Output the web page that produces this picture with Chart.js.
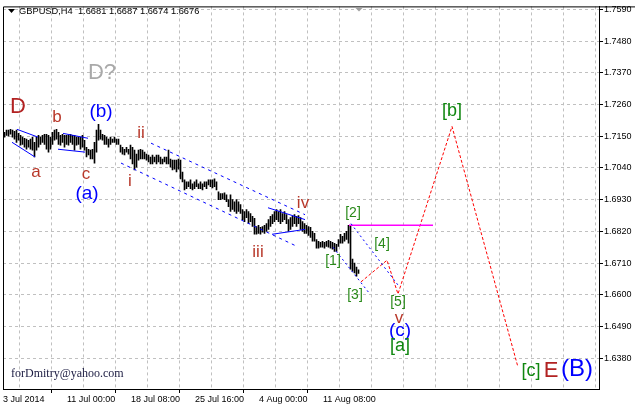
<!DOCTYPE html>
<html><head><meta charset="utf-8">
<script src="https://cdn.jsdelivr.net/npm/chart.js@4/dist/chart.umd.min.js"></script>
<style>html,body{margin:0;padding:0;background:#fff;overflow:hidden}#wrap{width:635px;height:405px;position:relative}</style>
</head><body><div id="wrap"><canvas id="c" width="635" height="405"></canvas></div>
<script>
// ---- data (H4 bars, index 0 = first visible bar) ----
const barHigh = [
1.7164,1.7171,1.7171,1.7174,1.7171,1.7167,1.7171,1.7160,1.7153,1.7147,
1.7143,1.7140,1.7136,1.7140,1.7147,1.7129,1.7147,1.7153,1.7147,1.7153,
1.7157,1.7157,1.7153,1.7147,1.7164,1.7171,1.7174,1.7164,1.7153,1.7157,
1.7153,1.7153,1.7153,1.7157,1.7153,1.7153,1.7147,1.7147,1.7147,1.7153,
1.7136,1.7112,1.7105,1.7102,1.7105,1.7129,1.7171,1.7191,1.7171,1.7157,
1.7153,1.7147,1.7140,1.7147,1.7140,1.7147,1.7140,1.7140,1.7119,1.7112,
1.7105,1.7112,1.7105,1.7119,1.7112,1.7102,1.7088,1.7102,1.7105,1.7102,
1.7095,1.7088,1.7085,1.7078,1.7085,1.7078,1.7085,1.7085,1.7078,1.7071,
1.7078,1.7078,1.7102,1.7071,1.7067,1.7067,1.7067,1.7071,1.7067,1.7026,
1.6999,1.6992,1.6992,1.6999,1.6985,1.6992,1.6999,1.6985,1.6992,1.6985,
1.6992,1.6992,1.6999,1.6999,1.6999,1.7002,1.6992,1.6957,1.6951,1.6951,
1.6954,1.6947,1.6930,1.6947,1.6930,1.6923,1.6930,1.6923,1.6913,1.6896,
1.6889,1.6896,1.6889,1.6882,1.6872,1.6865,1.6837,1.6841,1.6834,1.6837,
1.6841,1.6847,1.6861,1.6872,1.6878,1.6889,1.6896,1.6889,1.6896,1.6882,
1.6889,1.6878,1.6861,1.6868,1.6872,1.6878,1.6872,1.6875,1.6868,1.6854,
1.6847,1.6841,1.6837,1.6834,1.6820,1.6813,1.6792,1.6786,1.6782,1.6786,
1.6782,1.6786,1.6789,1.6786,1.6782,1.6779,1.6775,1.6792,1.6810,1.6803,
1.6813,1.6820,1.6841,1.6841,1.6724,1.6710,1.6696,1.6687];
const barLow = [
1.7147,1.7153,1.7150,1.7157,1.7147,1.7140,1.7129,1.7136,1.7119,1.7122,
1.7112,1.7105,1.7112,1.7105,1.7102,1.7078,1.7102,1.7112,1.7122,1.7129,
1.7122,1.7105,1.7095,1.7105,1.7122,1.7136,1.7140,1.7122,1.7119,1.7129,
1.7112,1.7122,1.7119,1.7129,1.7122,1.7102,1.7119,1.7122,1.7105,1.7112,
1.7102,1.7078,1.7085,1.7071,1.7071,1.7057,1.7095,1.7136,1.7140,1.7136,
1.7122,1.7122,1.7112,1.7122,1.7129,1.7129,1.7122,1.7122,1.7095,1.7088,
1.7085,1.7095,1.7088,1.7071,1.7054,1.7033,1.7043,1.7067,1.7071,1.7071,
1.7071,1.7067,1.7061,1.7054,1.7054,1.7061,1.7054,1.7061,1.7054,1.7054,
1.7061,1.7054,1.7054,1.7043,1.7033,1.7036,1.7026,1.7036,1.7002,1.6992,
1.6964,1.6968,1.6975,1.6968,1.6964,1.6968,1.6975,1.6968,1.6968,1.6964,
1.6975,1.6968,1.6981,1.6975,1.6971,1.6975,1.6964,1.6930,1.6930,1.6933,
1.6930,1.6923,1.6906,1.6889,1.6896,1.6889,1.6882,1.6889,1.6882,1.6861,
1.6854,1.6868,1.6847,1.6854,1.6837,1.6810,1.6810,1.6813,1.6810,1.6817,
1.6813,1.6820,1.6827,1.6837,1.6847,1.6854,1.6861,1.6854,1.6847,1.6854,
1.6861,1.6847,1.6820,1.6827,1.6837,1.6847,1.6837,1.6847,1.6827,1.6820,
1.6813,1.6813,1.6806,1.6799,1.6786,1.6786,1.6762,1.6762,1.6765,1.6765,
1.6762,1.6768,1.6765,1.6762,1.6758,1.6751,1.6751,1.6768,1.6779,1.6779,
1.6786,1.6792,1.6779,1.6689,1.6682,1.6676,1.6665,1.6674];

const dateLabels = ["3 Jul 2014","11 Jul 00:00","18 Jul 08:00","25 Jul 16:00","4 Aug 00:00","11 Aug 08:00"];
const dateLabelBars = [0,32,64,96,128,160];
const priceTicks = [1.6380,1.6490,1.6600,1.6710,1.6820,1.6930,1.7040,1.7150,1.7260,1.7370,1.7480,1.7590];
const quoteText = "GBPUSD,H4  1.6681 1.6687 1.6674 1.6676";
const signature = "forDmitry@yahoo.com";

// analysis lines: [bar, price] points
const wedge1Upper = [[6.25,1.7174],[16.75,1.7147]];
const wedge1Lower = [[3.75,1.7129],[15.25,1.7078]];
const wedge2Upper = [[29.25,1.7160],[41.75,1.7143]];
const wedge2Lower = [[26.75,1.7105],[40.25,1.7095]];
const channelUpper = [[73.25,1.7126],[150.25,1.6878]];
const channelLower = [[58.25,1.7057],[146.25,1.6768]];
const triUpper = [[131.75,1.6902],[150.25,1.6861]];
const triLower = [[133.75,1.6810],[150.25,1.6827]];
const subUpper = [[173.25,1.6847],[196.75,1.6634]];
const subLower = [[164.25,1.6765],[182.25,1.6607]];
const levelLine = [[172.25,1.6841],[214.25,1.6841]];
const forecastPath = [[178.25,1.6645],[191.25,1.6720],[196.75,1.6603],[223.75,1.7184],[256.75,1.6349]];

// wave labels
const waveText  = ["D","D?","b","(b)","a","c","(a)","ii","i","iii","iv","v","(c)","[a]","[b]","[c]","E","(B)","[1]","[2]","[3]","[4]","[5]"];
const waveBar   = [6.75,48.75,26.25,48.25,15.75,40.75,41.25,68.25,62.75,126.75,149.25,197.25,197.75,197.75,223.75,263.25,273.25,286.25,164.25,174.25,175.25,188.75,196.75];
const wavePrice = [1.7253,1.7370,1.7215,1.7236,1.7026,1.7019,1.6951,1.7160,1.6992,1.6748,1.6916,1.6517,1.6476,1.6421,1.7236,1.6335,1.6335,1.6342,1.6717,1.6885,1.6600,1.6775,1.6576];
const waveDegree= ["major","alt","minor","inter","minor","minor","inter","minor","minor","minor","minor","minor","inter","primary","primary","primary","major","cycle","sub","sub","sub","sub","sub"];

// ---- styles ----
const degreeStyle = {
  major:{color:"#b22222",size:22}, alt:{color:"#a9a9a9",size:22}, minor:{color:"#b8382a",size:17},
  inter:{color:"#0000ff",size:19}, primary:{color:"#0f870f",size:18}, cycle:{color:"#0000ff",size:24},
  sub:{color:"#2a8a1a",size:14}
};
const FONT = "'Liberation Sans', Arial, sans-serif";

const pts = a => a.map(p => ({x:p[0], y:p[1]}));
const lineDs = (data, color, dash, width) => ({
  type:'line', data:pts(data), borderColor:color, borderWidth:width||1, borderDash:dash||[],
  pointRadius:0, fill:false, tension:0, order:0, parsing:true
});

function dateLabelAt(value){
  const bar = Math.round(value + 0.75);
  const i = dateLabelBars.indexOf(bar);
  return i >= 0 ? dateLabels[i] : '';
}

const overlay = {
  id:'overlay',
  beforeDraw(chart){
    const c = chart.ctx; c.save(); c.fillStyle='#fff'; c.fillRect(0,0,chart.width,chart.height); c.restore();
  },
  afterDatasetsDraw(chart){
    const {ctx, scales:{x,y}} = chart;
    ctx.save();
    ctx.textAlign='center'; ctx.textBaseline='middle';
    for (let i=0;i<waveText.length;i++){
      const st = degreeStyle[waveDegree[i]];
      ctx.font = st.size + "px " + FONT;
      ctx.fillStyle = st.color;
      ctx.fillText(waveText[i], x.getPixelForValue(waveBar[i]), y.getPixelForValue(wavePrice[i]));
    }
    ctx.restore();
  },
  afterDraw(chart){
    const {ctx, chartArea:a, scales:{x}} = chart;
    ctx.save();
    // frame (left + top)
    ctx.strokeStyle='#000'; ctx.lineWidth=1;
    ctx.beginPath();
    ctx.moveTo(a.left+0.5, a.bottom); ctx.lineTo(a.left+0.5, a.top+0.5); ctx.lineTo(chart.width, a.top+0.5);
    ctx.stroke();
    // title
    ctx.fillStyle='#000';
    ctx.beginPath(); ctx.moveTo(8,9); ctx.lineTo(15,9); ctx.lineTo(11.5,13); ctx.closePath(); ctx.fill();
    ctx.font = "9.3px " + FONT; ctx.textBaseline='middle'; ctx.textAlign='left';
    ctx.fillText(quoteText, 19, 11.5);
    // chart shift marker
    const sx = Math.round(x.getPixelForValue(barHigh.length - 1));
    ctx.fillStyle='#a0a0a0';
    ctx.beginPath(); ctx.moveTo(sx-4, a.top+1); ctx.lineTo(sx+4, a.top+1); ctx.lineTo(sx, a.top+5); ctx.closePath(); ctx.fill();
    // signature
    ctx.font = "12px 'Liberation Serif', 'Times New Roman', serif";
    ctx.fillStyle='#1a1a40';
    ctx.fillText(signature, 11, 374);
    ctx.restore();
  }
};

const bars = barHigh.map((h,i) => ({x:i, y:[barLow[i], h]}));

new Chart(document.getElementById('c'), {
  type:'bar',
  data:{ datasets:[
    { type:'bar', data:bars, backgroundColor:'#000', borderWidth:0, barThickness:1, order:10 },
    lineDs(wedge1Upper,'#0000ff'), lineDs(wedge1Lower,'#0000ff'),
    lineDs(wedge2Upper,'#0000ff'), lineDs(wedge2Lower,'#0000ff'),
    lineDs(channelUpper,'#0000ff',[3,4]), lineDs(channelLower,'#0000ff',[3,4]),
    lineDs(triUpper,'#0000ff'), lineDs(triLower,'#0000ff'),
    lineDs(subUpper,'#0000ff',[2,3]), lineDs(subLower,'#0000ff',[2,3]),
    lineDs(levelLine,'#ff00ff',[],1.5),
    lineDs(forecastPath,'#ff0000',[3,2])
  ]},
  options:{
    responsive:false, animation:false, devicePixelRatio:1, events:[],
    layout:{ padding:{left:3, top:3, right:0, bottom:0} },
    plugins:{ legend:{display:false}, tooltip:{enabled:false}, title:{display:false} },
    scales:{
      x:{ type:'linear', min:-0.75, max:297.25, offset:false,
        afterBuildTicks: s => { s.ticks = Array.from({length:19}, (_,m) => ({value:16*m - 0.75})); },
        afterFit: s => { s.height = 16; },
        grid:{ color:'#c0c0c0', lineWidth:1, drawTicks:true, tickLength:4, tickWidth:1,
          tickColor: c => (c.tick && dateLabelAt(c.tick.value)) ? '#000' : 'rgba(0,0,0,0)' },
        border:{ display:true, color:'#000', width:1, dash:[3,3] },
        ticks:{ autoSkip:false, maxRotation:0, minRotation:0, align:'start', padding:1, color:'#000',
          font:{family:FONT, size:9}, callback: v => dateLabelAt(v) }
      },
      y:{ type:'linear', position:'right', min:1.62735, max:1.76003,
        afterBuildTicks: s => { s.ticks = priceTicks.map(v => ({value:v})); },
        afterFit: s => { s.width = 36; },
        grid:{ color:'#c0c0c0', lineWidth:1, tickLength:4, tickColor:'#000', tickWidth:1 },
        border:{ display:true, color:'#000', width:1, dash:[3,3] },
        ticks:{ padding:1, color:'#000', font:{family:FONT, size:9}, callback: v => v.toFixed(4) }
      }
    }
  },
  plugins:[overlay]
});
</script></body></html>
